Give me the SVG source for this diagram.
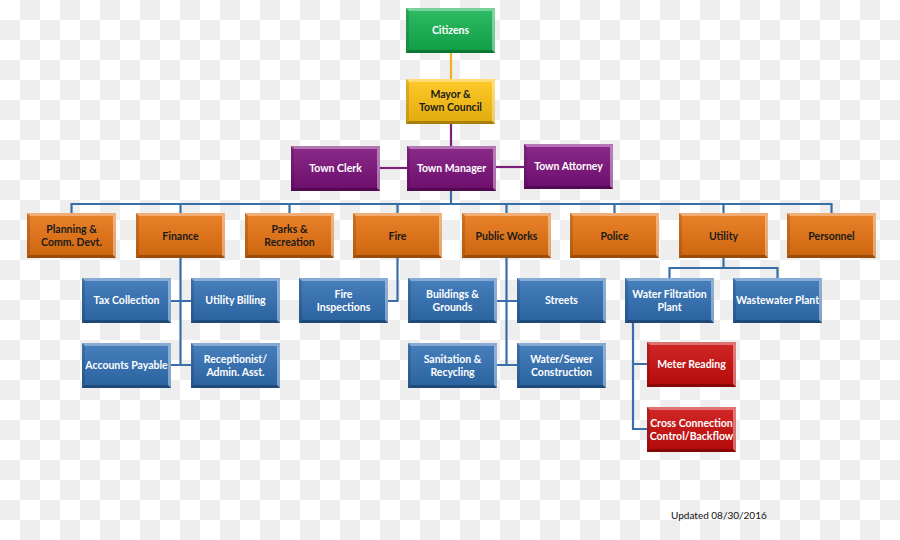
<svg xmlns="http://www.w3.org/2000/svg" xmlns:xlink="http://www.w3.org/1999/xlink" width="900" height="540" viewBox="0 0 900 540">
<defs>
<pattern id="chk" width="40" height="40" patternUnits="userSpaceOnUse">
<rect width="40" height="40" fill="#ffffff"/>
<rect x="20" y="0" width="20" height="20" fill="#eeeeee"/>
<rect x="0" y="20" width="20" height="20" fill="#eeeeee"/>
</pattern>
<linearGradient id="shade" x1="0" y1="0" x2="0" y2="1">
<stop offset="0" stop-color="#ffffff" stop-opacity="0.12"/>
<stop offset="1" stop-color="#000000" stop-opacity="0.12"/>
</linearGradient>
<g id="bev">
<rect x="0" y="0" width="89" height="45" fill="url(#shade)"/>
<polygon points="0,0 89,0 86,3 3,3" fill="#ffffff" fill-opacity="0.35"/>
<polygon points="89,0 89,45 86,42 86,3" fill="#ffffff" fill-opacity="0.4"/>
<polygon points="0,45 89,45 86,42 3,42" fill="#000000" fill-opacity="0.25"/>
<polygon points="0,0 3,3 3,42 0,45" fill="#000000" fill-opacity="0.12"/>
</g>
</defs>
<style>
.box{stroke:none}
.green{fill:#13b24f}
.yellow{fill:#ffc20e}
.purple{fill:#7b0f7b}
.orange{fill:#e8720f}
.blue{fill:#2f6fb5}
.red{fill:#cc0a0a}
text{font-family:"Lato","Liberation Sans",sans-serif;font-weight:bold;font-size:10.5px;text-anchor:middle}
.w{fill:#ffffff}
.k{fill:#1a1a1a}
.ln{fill:none;stroke-width:2.2}
.lb{stroke:#3a6ea8}
.lp{stroke:#7b1f7b}
.ly{stroke:#f2b01e}
.upd{font-family:"Lato","Liberation Sans",sans-serif;font-weight:normal;font-size:10px;fill:#111111;text-anchor:start}
</style>
<rect x="0" y="0" width="900" height="540" fill="url(#chk)"/>

<g id="connectors">
<line class="ln ly" x1="451" y1="53" x2="451" y2="79"/>
<line class="ln lp" x1="451" y1="124" x2="451" y2="146"/>
<line class="ln lp" x1="380" y1="168" x2="407" y2="168"/>
<line class="ln lp" x1="496" y1="167" x2="524" y2="167"/>
<line class="ln lb" x1="451" y1="191" x2="451" y2="204"/>
<line class="ln lb" x1="70.5" y1="204" x2="832.5" y2="204"/>
<path class="ln lb" d="M71.5 204V213M180.5 204V213M289.5 204V213M397.5 204V213M506.5 204V213M614.5 204V213M723.5 204V213M831.5 204V213"/>
<path class="ln lb" d="M180.5 258V365M171 301H191M171 365H191"/>
<path class="ln lb" d="M397.5 258V301H388"/>
<path class="ln lb" d="M506.5 258V365M497 301H517M497 365H517"/>
<path class="ln lb" d="M723.5 258V268M669.5 278V268H777.5V278"/>
<path class="ln lb" d="M633 323V429H647M633 364H647"/>
</g>

<g id="citizens"><rect class="box green" x="406" y="8" width="89" height="45"/><use xlink:href="#bev" x="406" y="8"/><text class="w" x="450.5" y="34">Citizens</text></g>
<g id="mayor"><rect class="box yellow" x="406" y="79" width="89" height="45"/><use xlink:href="#bev" x="406" y="79"/><text class="k" x="450.5" y="98">Mayor &amp;</text><text class="k" x="450.5" y="111">Town Council</text></g>
<g id="town-clerk"><rect class="box purple" x="291" y="146" width="89" height="45"/><use xlink:href="#bev" x="291" y="146"/><text class="w" x="335.5" y="172">Town Clerk</text></g>
<g id="town-manager"><rect class="box purple" x="407" y="146" width="89" height="45"/><use xlink:href="#bev" x="407" y="146"/><text class="w" x="451.5" y="172">Town Manager</text></g>
<g id="town-attorney"><rect class="box purple" x="524" y="144" width="89" height="45"/><use xlink:href="#bev" x="524" y="144"/><text class="w" x="568.5" y="170">Town Attorney</text></g>

<g id="planning"><rect class="box orange" x="27" y="213" width="89" height="45"/><use xlink:href="#bev" x="27" y="213"/><text class="k" x="71.5" y="233">Planning &amp;</text><text class="k" x="71.5" y="246">Comm. Devt.</text></g>
<g id="finance"><rect class="box orange" x="136" y="213" width="89" height="45"/><use xlink:href="#bev" x="136" y="213"/><text class="k" x="180.5" y="239.5">Finance</text></g>
<g id="parks"><rect class="box orange" x="245" y="213" width="89" height="45"/><use xlink:href="#bev" x="245" y="213"/><text class="k" x="289.5" y="233">Parks &amp;</text><text class="k" x="289.5" y="246">Recreation</text></g>
<g id="fire"><rect class="box orange" x="353" y="213" width="89" height="45"/><use xlink:href="#bev" x="353" y="213"/><text class="k" x="397.5" y="239.5">Fire</text></g>
<g id="public-works"><rect class="box orange" x="462" y="213" width="89" height="45"/><use xlink:href="#bev" x="462" y="213"/><text class="k" x="506.5" y="239.5">Public Works</text></g>
<g id="police"><rect class="box orange" x="570" y="213" width="89" height="45"/><use xlink:href="#bev" x="570" y="213"/><text class="k" x="614.5" y="239.5">Police</text></g>
<g id="utility"><rect class="box orange" x="679" y="213" width="89" height="45"/><use xlink:href="#bev" x="679" y="213"/><text class="k" x="723.5" y="239.5">Utility</text></g>
<g id="personnel"><rect class="box orange" x="787" y="213" width="89" height="45"/><use xlink:href="#bev" x="787" y="213"/><text class="k" x="831.5" y="239.5">Personnel</text></g>

<g id="tax-collection"><rect class="box blue" x="82" y="278" width="89" height="45"/><use xlink:href="#bev" x="82" y="278"/><text class="w" x="126.5" y="304">Tax Collection</text></g>
<g id="utility-billing"><rect class="box blue" x="191" y="278" width="89" height="45"/><use xlink:href="#bev" x="191" y="278"/><text class="w" x="235.5" y="304">Utility Billing</text></g>
<g id="fire-inspections"><rect class="box blue" x="299" y="278" width="89" height="45"/><use xlink:href="#bev" x="299" y="278"/><text class="w" x="343.5" y="297.5">Fire</text><text class="w" x="343.5" y="310.5">Inspections</text></g>
<g id="buildings"><rect class="box blue" x="408" y="278" width="89" height="45"/><use xlink:href="#bev" x="408" y="278"/><text class="w" x="452.5" y="297.5">Buildings &amp;</text><text class="w" x="452.5" y="310.5">Grounds</text></g>
<g id="streets"><rect class="box blue" x="517" y="278" width="89" height="45"/><use xlink:href="#bev" x="517" y="278"/><text class="w" x="561.5" y="304">Streets</text></g>
<g id="water-filtration"><rect class="box blue" x="625" y="278" width="89" height="45"/><use xlink:href="#bev" x="625" y="278"/><text class="w" x="669.5" y="297.5">Water Filtration</text><text class="w" x="669.5" y="310.5">Plant</text></g>
<g id="wastewater"><rect class="box blue" x="733" y="278" width="89" height="45"/><use xlink:href="#bev" x="733" y="278"/><text class="w" x="777.5" y="304">Wastewater Plant</text></g>

<g id="accounts-payable"><rect class="box blue" x="82" y="343" width="89" height="45"/><use xlink:href="#bev" x="82" y="343"/><text class="w" x="126.5" y="369">Accounts Payable</text></g>
<g id="receptionist"><rect class="box blue" x="191" y="343" width="89" height="45"/><use xlink:href="#bev" x="191" y="343"/><text class="w" x="235.5" y="362.5">Receptionist/</text><text class="w" x="235.5" y="375.5">Admin. Asst.</text></g>
<g id="sanitation"><rect class="box blue" x="408" y="343" width="89" height="45"/><use xlink:href="#bev" x="408" y="343"/><text class="w" x="452.5" y="362.5">Sanitation &amp;</text><text class="w" x="452.5" y="375.5">Recycling</text></g>
<g id="water-sewer"><rect class="box blue" x="517" y="343" width="89" height="45"/><use xlink:href="#bev" x="517" y="343"/><text class="w" x="561.5" y="362.5">Water/Sewer</text><text class="w" x="561.5" y="375.5">Construction</text></g>

<g id="meter-reading"><rect class="box red" x="647" y="342" width="89" height="45"/><use xlink:href="#bev" x="647" y="342"/><text class="w" x="691.5" y="368">Meter Reading</text></g>
<g id="cross-connection"><rect class="box red" x="647" y="407" width="89" height="45"/><use xlink:href="#bev" x="647" y="407"/><text class="w" x="691.5" y="426.5">Cross Connection</text><text class="w" x="691.5" y="439.5">Control/Backflow</text></g>

<text class="upd" x="671" y="519">Updated 08/30/2016</text>
</svg>
